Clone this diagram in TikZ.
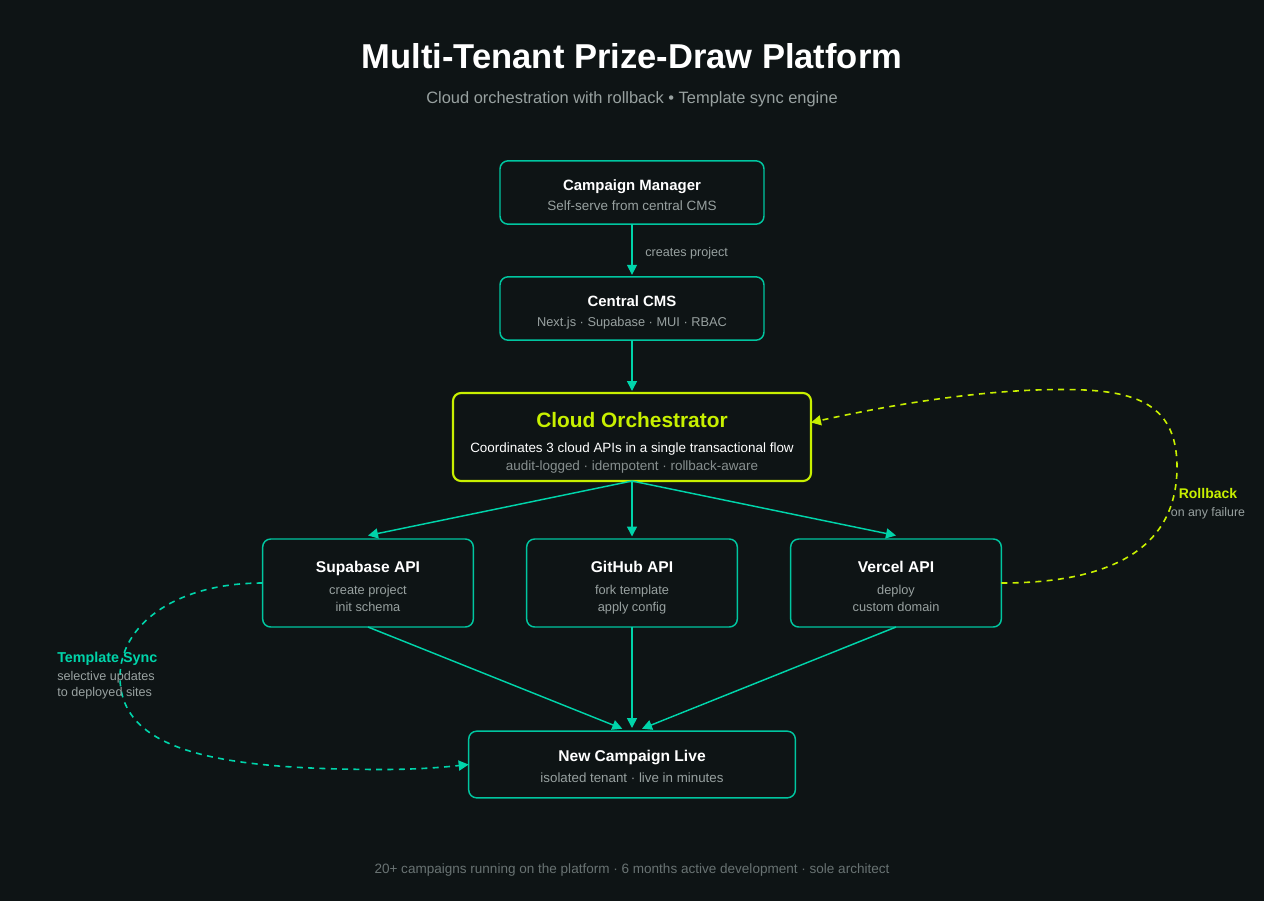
\documentclass[tikz,border=0pt]{standalone}
\usepackage{fontspec}
\setmainfont{Liberation Sans}
\usetikzlibrary{arrows.meta}
\definecolor{grund}{RGB}{14,20,21}
\definecolor{tuerkis}{RGB}{0,212,170}
\definecolor{rand}{RGB}{0,198,160}
\definecolor{limette}{RGB}{200,240,0}
\definecolor{hellgrau}{RGB}{152,161,160}
\definecolor{mittelgrau}{RGB}{135,143,143}
\definecolor{dunkelgrau}{RGB}{105,115,115}
\newcommand{\pxfont}[1]{\fontsize{#1}{#1}\selectfont}
\tikzset{
  box/.style={draw=rand, line width=1.1pt, rounded corners=6pt, inner sep=0pt, outer sep=0pt, fill=grund},
  pfeil/.style={draw=tuerkis, line width=1.1pt, -{Triangle[length=7.5pt,width=7.5pt]}},
  schleife/.style={line width=1.2pt, dash pattern=on 4.5pt off 4pt, -{Triangle[length=7.5pt,width=7.5pt]}},
  titel/.style={white, font=\pxfont{11.7}\bfseries, inner sep=0pt, anchor=base},
  zeile/.style={hellgrau, font=\pxfont{9.6}, inner sep=0pt, anchor=base},
}
\begin{document}
\begin{tikzpicture}[x=0.75pt, y=-0.75pt]
\fill[grund] (0,0) rectangle (1264,901);
\useasboundingbox (0,0) rectangle (1264,901);
% heading
\node[titel, font=\pxfont{25.9}\bfseries] (heading) at (632,68.7) {Multi-Tenant Prize-Draw Platform};
\node[zeile, font=\pxfont{12.33}] (subheading) at (632,103) {Cloud orchestration with rollback • Template sync engine};
% boxes
\node[box, minimum width=198pt, minimum height=47.5pt] (manager) at (632,192.5) {};
\node[box, minimum width=198pt, minimum height=47.5pt] (cms) at (632,308.5) {};
\node[box, draw=limette, line width=1.6pt, minimum width=268.5pt, minimum height=66pt] (orchestrator) at (632,437) {};
\node[box, minimum width=158pt, minimum height=66pt] (supabase) at (368,583) {};
\node[box, minimum width=158pt, minimum height=66pt] (github) at (632,583) {};
\node[box, minimum width=158pt, minimum height=66pt] (vercel) at (896,583) {};
\node[box, minimum width=245pt, minimum height=50pt] (live) at (632,764.5) {};
% free ends
\coordinate (rollbackend) at (811,422.5);
\coordinate (supatop) at (368,535.5);
\coordinate (gittop) at (632,536.5);
\coordinate (verceltop) at (896,535.5);
\coordinate (liveleft) at (622.3,728.7);
\coordinate (livemid) at (632,728);
\coordinate (liveright) at (642,728.7);
% arrows
\draw[pfeil, shorten >=1.5pt] (manager) -- (cms);
\draw[pfeil, shorten >=1.5pt] (cms) -- (orchestrator);
\draw[pfeil] (orchestrator.south) -- (supatop);
\draw[pfeil] (orchestrator.south) -- (gittop);
\draw[pfeil] (orchestrator.south) -- (verceltop);
\draw[pfeil] (supabase.south) -- (liveleft);
\draw[pfeil] (github.south) -- (livemid);
\draw[pfeil] (vercel.south) -- (liveright);
% rollback and sync
\draw[schleife, draw=limette] (vercel.east) .. controls (1100,583) and (1177,555) .. (1177,467) .. controls (1177,400) and (1130,389.5) .. (1062,389.5) .. controls (980,389.5) and (890,405) .. (rollbackend);
\draw[schleife, draw=tuerkis] (supabase.west) .. controls (175,583) and (120,625) .. (120,677) .. controls (120,755) and (230,769) .. (380,769.5) .. controls (420,769.5) and (445,767) .. (live.west);
% labels
\node[titel, font=\pxfont{11.2}\bfseries] (managertitle) at (632,190.7) {Campaign Manager};
\node[zeile, font=\pxfont{10.1}] (managertext) at (632,210) {Self-serve from central CMS};
\node[zeile, font=\pxfont{9.45}, anchor=base west] (createslabel) at (645,256) {creates project};
\node[titel, font=\pxfont{11.2}\bfseries] (cmstitle) at (632,306.7) {Central CMS};
\node[zeile] (cmstext) at (632,326) {Next.js · Supabase · MUI · RBAC};
\node[titel, limette, font=\pxfont{15.65}\bfseries] (orchtitle) at (632,427.3) {Cloud Orchestrator};
\node[zeile, white, font=\pxfont{10.08}] (orchtext) at (632,452) {Coordinates 3 cloud APIs in a single transactional flow};
\node[zeile, mittelgrau, font=\pxfont{10.1}] (orchsub) at (632,470) {audit-logged · idempotent · rollback-aware};
\node[titel] (supatitle) at (368,572) {Supabase API};
\node[zeile] (supaone) at (368,594) {create project};
\node[zeile] (supatwo) at (368,611) {init schema};
\node[titel] (gittitle) at (632,572) {GitHub API};
\node[zeile] (gitone) at (632,594) {fork template};
\node[zeile] (gittwo) at (632,611) {apply config};
\node[titel] (verceltitle) at (896,572) {Vercel API};
\node[zeile] (vercelone) at (896,594) {deploy};
\node[zeile] (verceltwo) at (896,611) {custom domain};
\node[titel] (livetitle) at (632,761) {New Campaign Live};
\node[zeile, font=\pxfont{10}] (livetext) at (632,782) {isolated tenant · live in minutes};
\node[titel, limette, font=\pxfont{10.5}\bfseries] (rollbacklabel) at (1208,498) {Rollback};
\node[zeile, font=\pxfont{9.27}] (rollbacktext) at (1208,516) {on any failure};
\node[titel, tuerkis, font=\pxfont{10.75}\bfseries, anchor=base west] (synclabel) at (57,662) {Template Sync};
\node[zeile, font=\pxfont{9.47}, anchor=base west] (syncone) at (57,680) {selective updates};
\node[zeile, font=\pxfont{9.47}, anchor=base west] (synctwo) at (57,696) {to deployed sites};
\node[zeile, dunkelgrau, font=\pxfont{10.15}] (footer) at (632,873) {20+ campaigns running on the platform · 6 months active development · sole architect};
\end{tikzpicture}
\end{document}
